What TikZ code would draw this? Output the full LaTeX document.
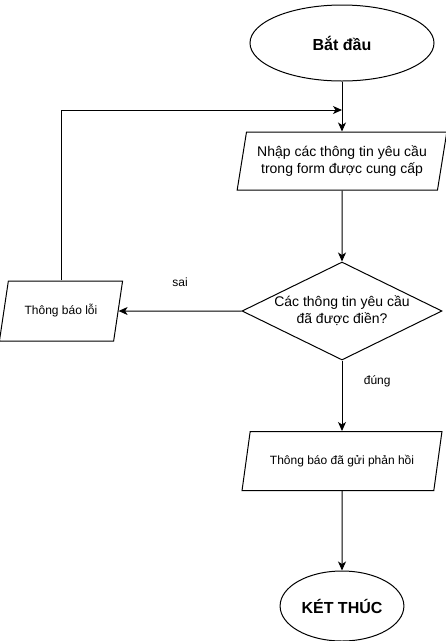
\documentclass[tikz,border=0pt]{standalone}
\usepackage{fontspec}
\setmainfont{Liberation Sans}
\usetikzlibrary{arrows.meta,shapes.geometric}

\begin{document}
\begin{tikzpicture}[->,>={Stealth[length=9pt,width=8pt,inset=2.5pt]},x=1pt,y=-1pt,line width=1pt,auto]
  \tikzstyle{every node}=[font=\fontsize{12}{14}\selectfont]
  \tikzstyle{terminal}=[ellipse,draw,font=\bfseries\fontsize{16}{19}\selectfont]
  \tikzstyle{io}=[trapezium,trapezium stretches=true,draw,align=center]
  \tikzstyle{decision}=[diamond,draw,aspect=2,inner sep=0pt,align=center,font=\fontsize{14}{17}\selectfont]

  \useasboundingbox (0,0) rectangle (446,641);

  \node[terminal,minimum width=184,minimum height=76] (A) at (342,43) {Bắt đầu};
  \node[io,trapezium left angle=77,trapezium right angle=103,minimum width=210,minimum height=58,
        font=\fontsize{14}{17}\selectfont]
        (B) [below of=A,node distance=118pt] {Nhập các thông tin yêu cầu\\trong form được cung cấp};
  \node[decision,minimum width=200,minimum height=98]
        (C) [below of=B,node distance=150pt] {Các thông tin yêu cầu\\đã được điền?};
  \node[io,trapezium left angle=70,trapezium right angle=110,minimum width=200,minimum height=59]
        (D) [below of=C,node distance=150pt] {Thông báo đã gửi phản hồi};
  \node[terminal,minimum width=122,minimum height=70]
        (E) [below of=D,node distance=145pt] {KÉT THÚC};
  \node[io,trapezium left angle=71,trapezium right angle=109,minimum width=124,minimum height=60]
        (L) [left of=C,node distance=281pt] {Thông báo lỗi};
  \coordinate (back) at (A.south |- 0,110);

  \path (A) edge                                  (B)
        (B) edge                                  (C)
        (C) edge  node[pos=0.3,right=18pt] {đúng} (D)
            edge  node[above=21pt] {sai}          (L)
        (D) edge                                  (E);
  \draw (L.north) |- (back);
\end{tikzpicture}
\end{document}
